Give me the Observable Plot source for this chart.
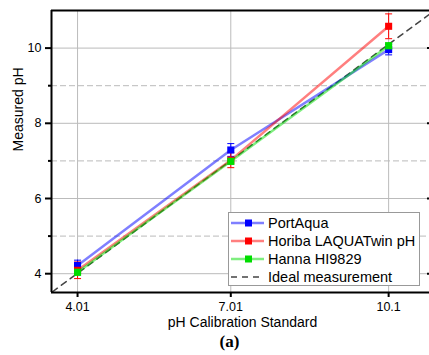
<!DOCTYPE html>
<html>
<head>
<meta charset="utf-8">
<script src="https://cdn.jsdelivr.net/npm/d3@7"></script>
<script src="https://cdn.jsdelivr.net/npm/@observablehq/plot@0.6"></script>
<style>
  html, body { margin: 0; padding: 0; background: #fff; }
  #wrap { position: relative; width: 429px; height: 355px; overflow: hidden; font-family: "Liberation Sans", Arial, sans-serif; }
  #legend { position: absolute; left: 228px; top: 212px; width: 192px; height: 74px; border: 1px solid #999; background: #fff; box-sizing: border-box; }
  .row { position: absolute; left: 0; height: 18px; width: 100%; }
  .row svg { position: absolute; left: 0; top: 0; }
  .row span { position: absolute; left: 39px; top: 0; line-height: 18px; font-size: 14.5px; color: #000; white-space: nowrap; }
</style>
</head>
<body>
<div id="wrap"></div>
<script>
// ---- data ----
const standards = [4.01, 7.01, 10.1];
const xTickLabels = ["4.01", "7.01", "10.1"];
const seriesNames = ["PortAqua", "Horiba LAQUATwin pH", "Hanna HI9829"];
const idealName = "Ideal measurement";
const portAqua = [4.22, 7.29, 9.96];
const portAquaErr = [0.14, 0.17, 0.14];
const horiba = [4.09, 7.02, 10.58];
const horibaErr = [0.22, 0.20, 0.33];
const hanna = [4.04, 6.99, 10.06];
const hannaErr = [0.08, 0.08, 0.08];
const idealPH = [3, 12];
const majorY = [4, 6, 8, 10];
const minorY = [5, 7, 9];
const xLabel = "pH Calibration Standard";
const yLabel = "Measured pH";
const panelLabel = "(a)";

const colors = ["#0000ff", "#ff0000", "#00dd00"];
const values = [portAqua, horiba, hanna];
const errs = [portAquaErr, horibaErr, hannaErr];

const rows = [];
seriesNames.forEach((name, s) => {
  standards.forEach((x, i) => {
    rows.push({series: name, x, y: values[s][i], err: errs[s][i], color: colors[s]});
  });
});
const ideal = idealPH.map(v => ({x: v, y: v}));

const xDomain = [3.5, 10.9];
const yDomain = [3.5, 11];

const capSymbol = {
  draw(ctx, size) {
    const r = Math.sqrt(size / Math.PI);
    ctx.moveTo(-r, 0);
    ctx.lineTo(r, 0);
  }
};

const seriesMarks = seriesNames.map((name, s) => {
  const d = rows.filter(r => r.series === name);
  return Plot.line(d, {x: "x", y: "y", stroke: colors[s], strokeOpacity: 0.5, strokeWidth: 2.5});
});
const errMarks = seriesNames.map((name, s) => {
  const d = rows.filter(r => r.series === name);
  return [
    Plot.ruleX(d, {x: "x", y1: r => r.y - r.err, y2: r => r.y + r.err, stroke: colors[s], strokeWidth: 1}),
    Plot.dot(d, {x: "x", y: r => r.y - r.err, r: 3.5, symbol: capSymbol, stroke: colors[s], strokeWidth: 1, fill: "none"}),
    Plot.dot(d, {x: "x", y: r => r.y + r.err, r: 3.5, symbol: capSymbol, stroke: colors[s], strokeWidth: 1, fill: "none"})
  ];
});
const dotMarks = seriesNames.map((name, s) => {
  const d = rows.filter(r => r.series === name);
  return Plot.dot(d, {x: "x", y: "y", symbol: "square", r: 4, fill: colors[s], stroke: "none"});
});

const chart = Plot.plot({
  width: 429,
  height: 355,
  marginLeft: 51,
  marginRight: 0,
  marginTop: 10,
  marginBottom: 63,
  style: {fontFamily: "Liberation Sans, Arial, sans-serif", fontSize: "12px", color: "#000", background: "#fff"},
  x: {domain: xDomain},
  y: {domain: yDomain},
  marks: [
    Plot.gridY(majorY, {stroke: "#bbb", strokeOpacity: 1, strokeWidth: 1}),
    Plot.gridY(minorY, {stroke: "#bbb", strokeOpacity: 1, strokeWidth: 1, strokeDasharray: "6,3"}),
    Plot.gridX(standards, {stroke: "#bbb", strokeOpacity: 1, strokeWidth: 1}),
    Plot.line(ideal, {x: "x", y: "y", stroke: "#444", strokeWidth: 1.5, strokeDasharray: "6,5", clip: true}),
    ...seriesMarks,
    ...errMarks.flat(),
    ...dotMarks,
    Plot.axisX({ticks: standards, tickFormat: (d, i) => xTickLabels[i], tickSize: 5, tickPadding: 5, strokeWidth: 2, fontSize: 12.5, label: null}),
    Plot.axisY({ticks: majorY, tickSize: 6, tickPadding: 4, strokeWidth: 2, fontSize: 12.5, label: null}),
    Plot.axisY({ticks: minorY, tickSize: 3, tickFormat: () => "", strokeWidth: 2, label: null}),
    Plot.axisY({anchor: "right", ticks: majorY, tickSize: 3, dx: -3, tickFormat: () => "", strokeWidth: 2, label: null}),
    Plot.ruleY([yDomain[1]], {stroke: "#000", strokeWidth: 2}),
    Plot.ruleY([yDomain[0]], {stroke: "#000", strokeWidth: 2}),
    Plot.ruleX([xDomain[0]], {stroke: "#000", strokeWidth: 2}),
    Plot.text([xLabel], {frameAnchor: "bottom", dy: 34, dx: 2, fontSize: 14, fill: "#000"}),
    Plot.text([yLabel], {frameAnchor: "left", dx: -33, rotate: -90, fontSize: 14, fill: "#000"}),
    Plot.text([panelLabel], {frameAnchor: "bottom", dy: 54, dx: -11, fontSize: 17, fontWeight: "bold", fontFamily: "Liberation Serif, Times New Roman, serif", fill: "#000"})
  ]
});

const wrap = document.getElementById("wrap");
wrap.appendChild(chart);

// legend
const legend = document.createElement("div");
legend.id = "legend";
const entries = seriesNames.map((n, i) => ({name: n, color: colors[i], dashed: false}))
  .concat([{name: idealName, color: "#444", dashed: true}]);
entries.forEach((e, i) => {
  const row = document.createElement("div");
  row.className = "row";
  row.style.top = (1 + i * 18) + "px";
  const ns = "http://www.w3.org/2000/svg";
  const svg = document.createElementNS(ns, "svg");
  svg.setAttribute("width", "40");
  svg.setAttribute("height", "18");
  const line = document.createElementNS(ns, "line");
  line.setAttribute("x1", "2"); line.setAttribute("x2", "35");
  line.setAttribute("y1", "9"); line.setAttribute("y2", "9");
  line.setAttribute("stroke", e.color);
  if (e.dashed) {
    line.setAttribute("stroke-width", "1.5");
    line.setAttribute("stroke-dasharray", "6,5");
  } else {
    line.setAttribute("stroke-width", "2.5");
    line.setAttribute("stroke-opacity", "0.5");
  }
  svg.appendChild(line);
  if (!e.dashed) {
    const rect = document.createElementNS(ns, "rect");
    rect.setAttribute("x", "16"); rect.setAttribute("y", "5.5");
    rect.setAttribute("width", "7"); rect.setAttribute("height", "7");
    rect.setAttribute("fill", e.color);
    svg.appendChild(rect);
  }
  row.appendChild(svg);
  const span = document.createElement("span");
  span.textContent = e.name;
  row.appendChild(span);
  legend.appendChild(row);
});
wrap.appendChild(legend);
</script>
</body>
</html>
